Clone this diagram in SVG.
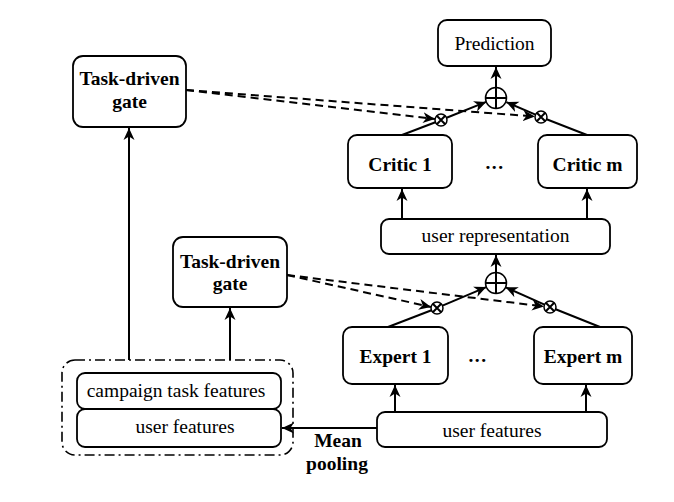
<svg xmlns="http://www.w3.org/2000/svg" width="674" height="502" viewBox="0 0 674 502">
<defs>
<marker id="ah" markerUnits="userSpaceOnUse" markerWidth="13" markerHeight="12" refX="12" refY="6" orient="auto">
<path d="M0,0.5 L12,6 L0,11.5 L3.5,6 Z" fill="#000"/>
</marker>
</defs>
<style>
.box{fill:#fff;stroke:#000;stroke-width:1.8}
.t{font-family:"Liberation Serif","Times New Roman",serif;font-size:19.5px;fill:#000;text-anchor:middle}
.b{font-weight:bold}
.ln{stroke:#000;stroke-width:2;fill:none}
.arr{stroke:#000;stroke-width:2;fill:none;marker-end:url(#ah)}
.dash{stroke:#000;stroke-width:2;fill:none;stroke-dasharray:8,5;marker-end:url(#ah)}
.op{fill:#fff;stroke:#000;stroke-width:1.5}
</style>
<rect width="674" height="502" fill="#fff"/>
<g id="connectors">
<line class="arr" x1="129" y1="360" x2="129" y2="128"/>
<line class="arr" x1="230" y1="360" x2="230" y2="308"/>
<line class="arr" x1="377" y1="428" x2="282" y2="428"/>
<line class="arr" x1="395" y1="412" x2="395" y2="385"/>
<line class="arr" x1="586" y1="412" x2="586" y2="385"/>
<line class="ln" x1="388" y1="327" x2="431.5" y2="310.3"/>
<line class="arr" x1="442.5" y1="305.7" x2="486.3" y2="287.1"/>
<line class="ln" x1="600" y1="327" x2="555.6" y2="309.2"/>
<line class="arr" x1="544.5" y1="304.6" x2="505.6" y2="287.3"/>
<line class="arr" x1="496" y1="272" x2="496" y2="255"/>
<line class="arr" x1="402" y1="219" x2="402" y2="189"/>
<line class="arr" x1="587" y1="219" x2="587" y2="189"/>
<line class="ln" x1="402" y1="135" x2="435.4" y2="122.2"/>
<line class="arr" x1="446.6" y1="117.8" x2="486.2" y2="101.9"/>
<line class="ln" x1="587" y1="135" x2="546.6" y2="119.2"/>
<line class="arr" x1="535.5" y1="114.7" x2="506.3" y2="102.1"/>
<line class="arr" x1="496" y1="87.5" x2="496" y2="67"/>
<line class="dash" x1="186" y1="90" x2="435" y2="119"/>
<line class="dash" x1="186" y1="90" x2="535" y2="116.5"/>
<line class="dash" x1="287" y1="275" x2="431" y2="307"/>
<line class="dash" x1="287" y1="275" x2="544" y2="306.5"/>
<g id="ops">
<circle class="op" cx="496" cy="98" r="10.5"/>
<path class="ln" d="M485.5,98 H506.5 M496,87.5 V108.5" stroke-width="1.5"/>
<circle class="op" cx="496" cy="283" r="10.5"/>
<path class="ln" d="M485.5,283 H506.5 M496,272.5 V293.5" stroke-width="1.5"/>
<circle class="op" cx="441" cy="120" r="6"/>
<path class="ln" d="M436.8,115.8 L445.2,124.2 M445.2,115.8 L436.8,124.2" stroke-width="1.2"/>
<circle class="op" cx="541" cy="117" r="6"/>
<path class="ln" d="M536.8,112.8 L545.2,121.2 M545.2,112.8 L536.8,121.2" stroke-width="1.2"/>
<circle class="op" cx="437" cy="308" r="6"/>
<path class="ln" d="M432.8,303.8 L441.2,312.2 M441.2,303.8 L432.8,312.2" stroke-width="1.2"/>
<circle class="op" cx="550" cy="307" r="6"/>
<path class="ln" d="M545.8,302.8 L554.2,311.2 M554.2,302.8 L545.8,311.2" stroke-width="1.2"/>
</g>
</g>
<g id="gate-top">
<rect class="box" x="73" y="56" width="113" height="71" rx="10"/>
<text class="t b" x="129.5" y="85">Task-driven</text>
<text class="t b" x="129.5" y="108">gate</text>
</g>
<g id="gate-mid">
<rect class="box" x="173" y="237" width="114" height="70" rx="10"/>
<text class="t b" x="230" y="268">Task-driven</text>
<text class="t b" x="230" y="290">gate</text>
</g>
<g id="prediction">
<rect class="box" x="438" y="20" width="113" height="46" rx="9"/>
<text class="t" x="494.5" y="50">Prediction</text>
</g>
<g id="critic1">
<rect class="box" x="348" y="135" width="104" height="53" rx="9"/>
<text class="t b" x="400" y="171">Critic 1</text>
</g>
<g id="criticm">
<rect class="box" x="538" y="135" width="99" height="53" rx="9"/>
<text class="t b" x="587.5" y="171">Critic m</text>
</g>
<g id="dots-critic">
<text class="t b" x="495" y="169" font-size="27" letter-spacing="1.5">...</text>
</g>
<g id="user-rep">
<rect class="box" x="381" y="219" width="229" height="35" rx="8"/>
<text class="t" x="495.5" y="242">user representation</text>
</g>
<g id="expert1">
<rect class="box" x="343" y="327" width="105" height="57" rx="9"/>
<text class="t b" x="395.5" y="363">Expert 1</text>
</g>
<g id="expertm">
<rect class="box" x="534" y="327" width="98" height="57" rx="9"/>
<text class="t b" x="583" y="363">Expert m</text>
</g>
<g id="dots-expert">
<text class="t b" x="478" y="362" font-size="27" letter-spacing="1.5">...</text>
</g>
<g id="user-features-right">
<rect class="box" x="377" y="412" width="230" height="35" rx="8"/>
<text class="t" x="492" y="437">user features</text>
</g>
<g id="input-group">
<rect x="62" y="360" width="231" height="95" rx="13" fill="none" stroke="#000" stroke-width="1.6" stroke-dasharray="10,4,2,4"/>
<g id="campaign-task-features">
<rect class="box" x="77" y="373" width="204" height="36" rx="8"/>
<text class="t" x="176" y="397">campaign task features</text>
</g>
<g id="user-features-left">
<rect class="box" x="77" y="409" width="204" height="38" rx="8"/>
<text class="t" x="185" y="433">user features</text>
</g>
</g>
<g id="mean-pooling-label">
<text class="t b" x="338" y="447">Mean</text>
<text class="t b" x="337" y="470">pooling</text>
</g>
</svg>
